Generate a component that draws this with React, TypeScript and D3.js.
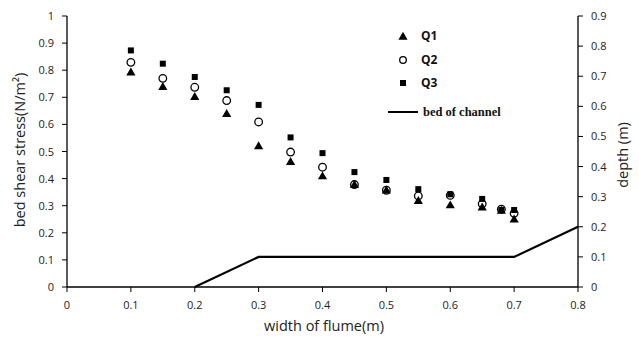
import React from "react";
import * as d3 from "d3";

const widths = [0.1, 0.15, 0.2, 0.25, 0.3, 0.35, 0.4, 0.45, 0.5, 0.55, 0.6, 0.65, 0.68, 0.7];
const q1 = [0.79, 0.737, 0.70, 0.637, 0.518, 0.46, 0.407, 0.375, 0.355, 0.316, 0.3, 0.292, 0.28, 0.248];
const q2 = [0.829, 0.77, 0.737, 0.688, 0.609, 0.498, 0.442, 0.378, 0.357, 0.336, 0.338, 0.307, 0.287, 0.272];
const q3 = [0.873, 0.824, 0.775, 0.726, 0.672, 0.552, 0.494, 0.424, 0.395, 0.361, 0.342, 0.325, 0.284, 0.284];
const bedX = [0.2, 0.3, 0.7, 0.8];
const bedDepth = [0, 0.1, 0.1, 0.2];
const xTicks = [0, 0.1, 0.2, 0.3, 0.4, 0.5, 0.6, 0.7, 0.8];
const leftTicks = [0, 0.1, 0.2, 0.3, 0.4, 0.5, 0.6, 0.7, 0.8, 0.9, 1];
const rightTicks = [0, 0.1, 0.2, 0.3, 0.4, 0.5, 0.6, 0.7, 0.8, 0.9];
const legendLabels = ["Q1", "Q2", "Q3"];

const W = 639, H = 338;
const x = d3.scaleLinear().domain([0, 0.8]).range([67, 578]);
const yL = d3.scaleLinear().domain([0, 1]).range([287, 16]);
const yR = d3.scaleLinear().domain([0, 0.9]).range([287, 16]);

const FONT = "'Open Sans', 'Liberation Sans', sans-serif";

function Tri({ cx, cy, s = 9 }: { cx: number; cy: number; s?: number }) {
  const p = d3.symbol().type(d3.symbolTriangle).size(s * s * 0.45)();
  return <path d={p || ""} transform={`translate(${cx},${cy})`} fill="#000" />;
}

export default function App() {
  const bedLine = d3
    .line<number>()
    .x((_, i) => x(bedX[i]))
    .y((d) => yR(d))(bedDepth);

  const fmt = (v: number) => (v === 0 || v === 1 ? String(v) : v.toFixed(1));

  return (
    <svg width={W} height={H} style={{ position: "absolute", left: 0, top: 0, background: "#fff" }}>
      <rect width={W} height={H} fill="#fff" />
      {/* axes */}
      <line x1={x(0)} x2={x(0.8)} y1={287} y2={287} stroke="#000" strokeWidth={1.3} />
      <line x1={x(0)} x2={x(0)} y1={16} y2={287} stroke="#000" strokeWidth={1.3} />
      <line x1={x(0.8)} x2={x(0.8)} y1={16} y2={287} stroke="#000" strokeWidth={1.3} />
      {xTicks.map((t) => (
        <g key={"xt" + t}>
          <line x1={x(t)} x2={x(t)} y1={287} y2={292} stroke="#000" strokeWidth={1} />
          <text x={x(t)} y={308.5} textAnchor="middle" fontSize={11} fontFamily={FONT} fill="#222">
            {String(t)}
          </text>
        </g>
      ))}
      {leftTicks.map((t) => (
        <g key={"yl" + t}>
          <line x1={x(0) - 5} x2={x(0)} y1={yL(t)} y2={yL(t)} stroke="#000" strokeWidth={1} />
          <text x={54} y={yL(t) + 4} textAnchor="end" fontSize={11} fontFamily={FONT} fill="#222">
            {fmt(t)}
          </text>
        </g>
      ))}
      {rightTicks.map((t) => (
        <g key={"yr" + t}>
          <line x1={x(0.8)} x2={x(0.8) + 5} y1={yR(t)} y2={yR(t)} stroke="#000" strokeWidth={1} />
          <text x={591} y={yR(t) + 4} textAnchor="start" fontSize={11} fontFamily={FONT} fill="#222">
            {fmt(t)}
          </text>
        </g>
      ))}
      {/* axis titles */}
      <text x={324} y={331} textAnchor="middle" fontSize={14.5} fontFamily={FONT} fill="#222">
        width of flume(m)
      </text>
      <text
        transform={`translate(25,${150}) rotate(-90)`}
        textAnchor="middle"
        fontSize={14.5}
        fontFamily={FONT}
        fill="#222"
      >
        bed shear stress(N/m²)
      </text>
      <text
        transform={`translate(628,${155}) rotate(-90)`}
        textAnchor="middle"
        fontSize={14.5}
        fontFamily={FONT}
        fill="#222"
      >
        depth (m)
      </text>
      {/* bed line */}
      <path d={bedLine || ""} fill="none" stroke="#000" strokeWidth={2.2} />
      {/* data */}
      {widths.map((w, i) => (
        <Tri key={"t" + i} cx={x(w)} cy={yL(q1[i])} />
      ))}
      {widths.map((w, i) => (
        <circle key={"c" + i} cx={x(w)} cy={yL(q2[i])} r={3.8} fill="none" stroke="#000" strokeWidth={1.3} />
      ))}
      {widths.map((w, i) => (
        <rect key={"s" + i} x={x(w) - 3} y={yL(q3[i]) - 3} width={6} height={6} fill="#000" />
      ))}
      {/* legend */}
      <Tri cx={403} cy={37} />
      <circle cx={403} cy={60} r={3.3} fill="none" stroke="#000" strokeWidth={1.3} />
      <rect x={400} y={80} width={6} height={6} fill="#000" />
      {legendLabels.map((l, i) => (
        <text
          key={l}
          x={421}
          y={40 + i * 23.5}
          fontSize={12}
          fontWeight="bold"
          fontFamily={FONT}
          fill="#111"
        >
          {l}
        </text>
      ))}
      <line x1={388} x2={418} y1={112} y2={112} stroke="#000" strokeWidth={2} />
      <text x={423} y={116} fontSize={12.5} fontWeight="bold" fontFamily="'Liberation Serif', 'DejaVu Serif', serif" fill="#111">
        bed of channel
      </text>
    </svg>
  );
}
